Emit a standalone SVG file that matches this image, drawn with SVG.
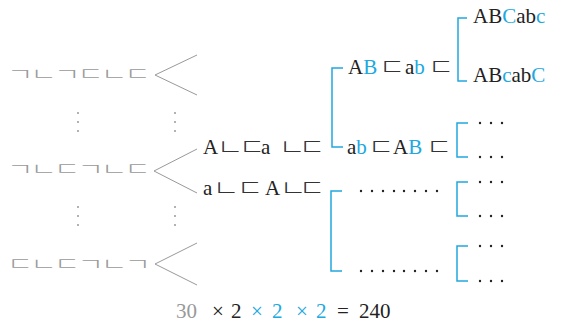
<svg xmlns="http://www.w3.org/2000/svg" width="566" height="332" viewBox="0 0 566 332">
<style>
.ser{font-family:"Liberation Serif","DejaVu Serif",serif;font-size:21px;fill:#222}
.b{fill:#20a8e0}
.g{fill:#999}
.jm{font-family:"Noto Sans CJK KR",sans-serif;font-size:29px;font-weight:200;fill:#333;text-anchor:middle}
.jl{font-family:"Noto Sans CJK KR",sans-serif;font-size:29px;font-weight:200;fill:#999;text-anchor:middle}
.gl{stroke:#999;fill:none;stroke-width:1}
.br{stroke:#20a8e0;fill:none;stroke-width:1.5}
.dt{fill:#222}
.gd{fill:#999}
</style>
<rect width="566" height="332" fill="#fff"/>
<g id="left1"><text class="jl" transform="translate(0,79.5) scale(1,0.6)" x="20 43.5 67 90.5 114 137.5" y="0">ㄱㄴㄱㄷㄴㄷ</text></g>
<g id="left2"><text class="jl" transform="translate(0,175) scale(1,0.6)" x="20 43.5 67 90.5 114 137.5" y="0">ㄱㄴㄷㄱㄴㄷ</text></g>
<g id="left3"><text class="jl" transform="translate(0,270) scale(1,0.6)" x="20 43.5 67 90.5 114 137.5" y="0">ㄷㄴㄷㄱㄴㄱ</text></g>
<g id="vdots">
<circle class="gd" cx="78" cy="113" r="1"/><circle class="gd" cx="78" cy="122" r="1"/><circle class="gd" cx="78" cy="131" r="1"/>
<circle class="gd" cx="175" cy="113" r="1"/><circle class="gd" cx="175" cy="122" r="1"/><circle class="gd" cx="175" cy="131" r="1"/>
<circle class="gd" cx="78" cy="207" r="1"/><circle class="gd" cx="78" cy="216" r="1"/><circle class="gd" cx="78" cy="225" r="1"/>
<circle class="gd" cx="175" cy="207" r="1"/><circle class="gd" cx="175" cy="216" r="1"/><circle class="gd" cx="175" cy="225" r="1"/>
</g>
<g id="mid1"><text class="ser" x="203" y="154">A</text><text class="jm" transform="translate(0,154.5) scale(1,0.77)" x="230" y="0">ㄴ</text><text class="jm" transform="translate(0,154.5) scale(1,0.77)" x="252" y="0">ㄷ</text><text class="ser" x="261" y="154">a</text><text class="jm" transform="translate(0,154.5) scale(1,0.77)" x="292" y="0">ㄴ</text><text class="jm" transform="translate(0,154.5) scale(1,0.77)" x="312" y="0">ㄷ</text></g>
<g id="mid2"><text class="ser" x="203" y="195">a</text><text class="jm" transform="translate(0,195.5) scale(1,0.77)" x="226" y="0">ㄴ</text><text class="jm" transform="translate(0,195.5) scale(1,0.77)" x="250" y="0">ㄷ</text><text class="ser" x="265" y="195">A</text><text class="jm" transform="translate(0,195.5) scale(1,0.77)" x="293" y="0">ㄴ</text><text class="jm" transform="translate(0,195.5) scale(1,0.77)" x="312" y="0">ㄷ</text></g>
<g id="n-ABdabd"><text class="ser" x="348" y="74">A<tspan class="b">B</tspan></text><text class="jm" transform="translate(0,74.5) scale(1,0.77)" x="392" y="0">ㄷ</text><text class="ser" x="405" y="74">a<tspan class="b">b</tspan></text><text class="jm" transform="translate(0,74.5) scale(1,0.77)" x="441" y="0">ㄷ</text></g>
<g id="n-abdABd"><text class="ser" x="347" y="154">a<tspan class="b">b</tspan></text><text class="jm" transform="translate(0,154.5) scale(1,0.77)" x="381" y="0">ㄷ</text><text class="ser" x="393" y="154">A<tspan class="b">B</tspan></text><text class="jm" transform="translate(0,154.5) scale(1,0.77)" x="439" y="0">ㄷ</text></g>
<g id="n-ABCabc"><text class="ser" x="473" y="23">AB<tspan class="b">C</tspan>ab<tspan class="b">c</tspan></text></g>
<g id="n-ABcabC"><text class="ser" x="473" y="82">AB<tspan class="b">c</tspan>ab<tspan class="b">C</tspan></text></g>
<g id="dots8">
<circle class="dt" cx="361" cy="191" r="1.2"/><circle class="dt" cx="372" cy="191" r="1.2"/><circle class="dt" cx="383" cy="191" r="1.2"/><circle class="dt" cx="394" cy="191" r="1.2"/><circle class="dt" cx="404" cy="191" r="1.2"/><circle class="dt" cx="415" cy="191" r="1.2"/><circle class="dt" cx="426" cy="191" r="1.2"/><circle class="dt" cx="437" cy="191" r="1.2"/>
<circle class="dt" cx="361" cy="271" r="1.2"/><circle class="dt" cx="372" cy="271" r="1.2"/><circle class="dt" cx="383" cy="271" r="1.2"/><circle class="dt" cx="394" cy="271" r="1.2"/><circle class="dt" cx="404" cy="271" r="1.2"/><circle class="dt" cx="415" cy="271" r="1.2"/><circle class="dt" cx="426" cy="271" r="1.2"/><circle class="dt" cx="437" cy="271" r="1.2"/>
</g>
<g id="dots3">
<circle class="dt" cx="480" cy="123" r="1.2"/><circle class="dt" cx="491" cy="123" r="1.2"/><circle class="dt" cx="502" cy="123" r="1.2"/>
<circle class="dt" cx="480" cy="157" r="1.2"/><circle class="dt" cx="491" cy="157" r="1.2"/><circle class="dt" cx="502" cy="157" r="1.2"/>
<circle class="dt" cx="480" cy="182" r="1.2"/><circle class="dt" cx="491" cy="182" r="1.2"/><circle class="dt" cx="502" cy="182" r="1.2"/>
<circle class="dt" cx="480" cy="216" r="1.2"/><circle class="dt" cx="491" cy="216" r="1.2"/><circle class="dt" cx="502" cy="216" r="1.2"/>
<circle class="dt" cx="480" cy="246" r="1.2"/><circle class="dt" cx="491" cy="246" r="1.2"/><circle class="dt" cx="502" cy="246" r="1.2"/>
<circle class="dt" cx="480" cy="281" r="1.2"/><circle class="dt" cx="491" cy="281" r="1.2"/><circle class="dt" cx="502" cy="281" r="1.2"/>
</g>
<g id="connectors">
<polyline class="gl" points="197,55 155,75 197,95"/>
<polyline class="gl" points="197,149 154,171 197,193"/>
<polyline class="gl" points="197,243 155,264 197,285"/>
<path class="br" d="M343,68H332V147H343"/>
<path class="br" d="M342,191H331V271H342"/>
<path class="br" d="M467,18H458V81H467"/>
<path class="br" d="M468,123H457V157H468"/>
<path class="br" d="M468,182H457V216H468"/>
<path class="br" d="M468,246H457V281H468"/>
</g>
<g id="formula">
<text class="ser g" x="176" y="318">30</text>
<text class="ser" x="212" y="318">×</text>
<text class="ser" x="231" y="318">2</text>
<text class="ser b" x="251" y="318">×</text>
<text class="ser b" x="272" y="318">2</text>
<text class="ser b" x="296" y="318">×</text>
<text class="ser b" x="316" y="318">2</text>
<text class="ser" x="337" y="318">=</text>
<text class="ser" x="359" y="318">240</text>
</g>
</svg>
